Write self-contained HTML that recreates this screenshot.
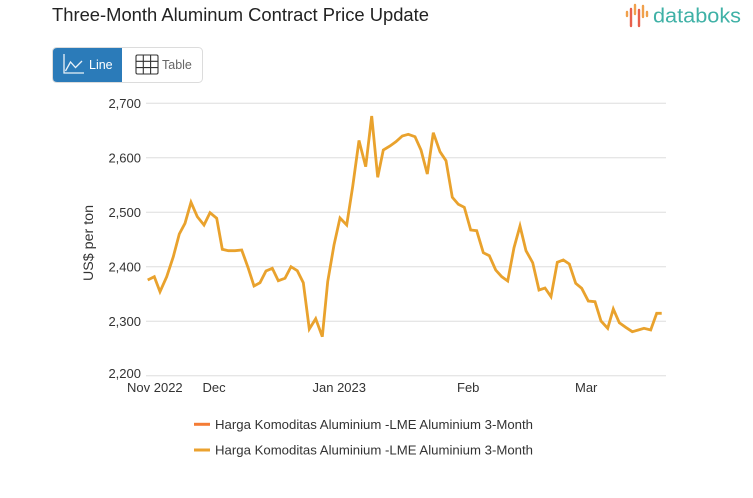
<!DOCTYPE html>
<html>
<head>
<meta charset="utf-8">
<style>
  html,body{margin:0;padding:0;background:#fff;}
  body{width:753px;height:498px;overflow:hidden;}
  svg{display:block;}
  text{font-family:"Liberation Sans",sans-serif;}
</style>
</head>
<body>
<svg width="753" height="498" viewBox="0 0 753 498" xmlns="http://www.w3.org/2000/svg">
  <rect width="753" height="498" fill="#fff"/>
  <!-- Title -->
  <text x="52" y="21" font-size="18.5" fill="#222" textLength="377" lengthAdjust="spacingAndGlyphs">Three-Month Aluminum Contract Price Update</text>

  <!-- Logo -->
  <g stroke-linecap="round" stroke-width="2.4">
    <line x1="627" y1="12" x2="627" y2="16" stroke="#f0a04b"/>
    <line x1="631" y1="9" x2="631" y2="26" stroke="#e8604c"/>
    <line x1="635" y1="5" x2="635" y2="14" stroke="#f0a04b"/>
    <line x1="639" y1="10" x2="639" y2="26" stroke="#e8604c"/>
    <line x1="643" y1="6" x2="643" y2="17" stroke="#f0a04b"/>
    <line x1="647" y1="12" x2="647" y2="16" stroke="#f0a04b"/>
  </g>
  <text x="653" y="22.5" font-size="20.5" fill="#3fb1a6" textLength="88" lengthAdjust="spacingAndGlyphs">databoks</text>

  <!-- Buttons -->
  <rect x="52.5" y="47.5" width="150" height="35" rx="4" ry="4" fill="#fff" stroke="#dcdcdc"/>
  <path d="M57,48 H122 V82 H57 Q53,82 53,78 V52 Q53,48 57,48 Z" fill="#2b7bb9"/>
  <g fill="none" stroke="#fff" stroke-width="1.3" opacity="0.9">
    <polyline points="64,54 64,73 84,73"/>
    <polyline points="65.5,71 70.5,62 75.5,67.5 82,61"/>
  </g>
  <text x="89" y="69" font-size="12.5" fill="#fff">Line</text>
  <g fill="none" stroke="#333" stroke-width="1.1">
    <rect x="136" y="55" width="22" height="19" rx="1.5"/>
    <line x1="143.3" y1="55" x2="143.3" y2="74"/>
    <line x1="150.6" y1="55" x2="150.6" y2="74"/>
    <line x1="136" y1="61.3" x2="158" y2="61.3"/>
    <line x1="136" y1="67.6" x2="158" y2="67.6"/>
  </g>
  <text x="162" y="69" font-size="12.5" fill="#666">Table</text>

  <!-- Gridlines -->
  <g stroke="#dddddd" stroke-width="1">
    <line x1="146" y1="103.3" x2="666" y2="103.3"/>
    <line x1="146" y1="157.8" x2="666" y2="157.8"/>
    <line x1="146" y1="212.3" x2="666" y2="212.3"/>
    <line x1="146" y1="266.8" x2="666" y2="266.8"/>
    <line x1="146" y1="321.2" x2="666" y2="321.2"/>
    <line x1="146" y1="375.7" x2="666" y2="375.7"/>
  </g>

  <!-- Y labels -->
  <g font-size="13" fill="#333" text-anchor="end">
    <text x="141" y="108">2,700</text>
    <text x="141" y="162.5">2,600</text>
    <text x="141" y="217">2,500</text>
    <text x="141" y="271.5">2,400</text>
    <text x="141" y="326">2,300</text>
    <text x="141" y="378">2,200</text>
  </g>
  <text transform="translate(93,243) rotate(-90)" font-size="13.5" fill="#333" text-anchor="middle" textLength="76" lengthAdjust="spacingAndGlyphs">US$ per ton</text>

  <!-- X labels -->
  <g font-size="13" fill="#333">
    <text x="127" y="392">Nov 2022</text>
    <text x="202.5" y="392">Dec</text>
    <text x="312.5" y="392">Jan 2023</text>
    <text x="457" y="392">Feb</text>
    <text x="575" y="392">Mar</text>
  </g>

  <!-- Series -->
  <polyline fill="none" stroke="#e9a22d" stroke-width="2.8" stroke-linejoin="miter" stroke-miterlimit="4"
    points="147.7,280 154.3,276.7 160,291.7 166.7,276.7 173.3,256.7 179.3,234 185,223.3 191,202.3 197.3,216.7 204,225 210,212.7 216.7,218.3 222.3,249.3 228.3,250.7 235,250.7 241.7,250 248.3,268.3 254,286 260,282.7 266,271 272.3,268.3 278.3,280.7 285,278.3 291,266.7 297.3,270.7 303.3,282.7 309.3,329 315.7,318.7 322.3,336.7 327.7,281.7 334,245 340,218 346.7,225 352.7,186.5 359,140.5 365.7,166.7 371.7,116 377.7,177.3 383.3,150 390,146 396,141.7 402.3,136 408.3,134.3 415,136.7 421,150 427.3,174 433.3,132.7 440,151.7 446,160.7 452.3,197.3 458.3,204.3 464.3,207.3 470.7,230 476.7,230.7 483.3,252.7 489.3,255.7 495.7,270 501.7,276.7 507.7,281 514,247.7 520,226 526,250.7 532.7,262.7 539,290 545,288 551,296.7 557.3,262.3 563.3,260 569.3,264 575.7,283.3 581.7,288.3 588.3,301 595,301.7 601,321 607.7,328.3 613.3,309 619.3,322.7 625.7,327.3 632.3,331.7 638.3,330 644,328.3 650.7,330 656.7,313.3 661.7,313.3"/>

  <!-- Legend -->
  <line x1="194" y1="424.3" x2="210" y2="424.3" stroke="#f47c35" stroke-width="3"/>
  <text x="215" y="429" font-size="13" fill="#333" textLength="318" lengthAdjust="spacingAndGlyphs">Harga Komoditas Aluminium -LME Aluminium 3-Month</text>
  <line x1="194" y1="450" x2="210" y2="450" stroke="#eba22f" stroke-width="3"/>
  <text x="215" y="454.5" font-size="13" fill="#333" textLength="318" lengthAdjust="spacingAndGlyphs">Harga Komoditas Aluminium -LME Aluminium 3-Month</text>
</svg>
</body>
</html>
